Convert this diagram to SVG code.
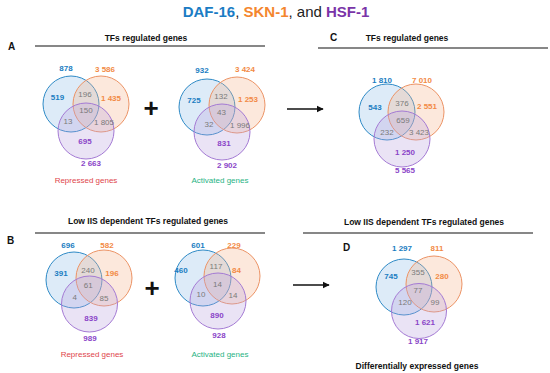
<svg xmlns="http://www.w3.org/2000/svg" width="550" height="373" viewBox="0 0 550 373">
<defs>
<style>
text{font-family:"Liberation Sans",Arial,sans-serif;text-anchor:middle}
.h{font-size:15px;font-weight:bold}
.t{font-size:8.5px;font-weight:bold;fill:#111}
.L{font-size:10px;font-weight:bold;fill:#111;text-anchor:start}
.n{font-size:8px}
.b{fill:#1a7dc2;font-weight:bold}
.o{fill:#f28a45;font-weight:bold}
.p{fill:#8a45c8;font-weight:bold}
.g{fill:#7a7a7a}
.rep{font-size:8px;fill:#e0464a}
.act{font-size:8px;fill:#1fb383}
.plus{font-size:26px;font-weight:bold;fill:#111}
.cb{fill:#9ec7ea;fill-opacity:0.35;stroke:#2e8ac6;stroke-width:1}
.co{fill:#f6b48a;fill-opacity:0.3;stroke:#ec9365;stroke-width:1}
.cp{fill:#bba2dd;fill-opacity:0.3;stroke:#a47ad4;stroke-width:1}
.rule{stroke:#111;stroke-width:1.2}
.arr{stroke:#111;stroke-width:1.6;fill:none}
</style>
<marker id="ah" viewBox="0 0 10 10" refX="9" refY="5" markerWidth="4.5" markerHeight="4.5" orient="auto" markerUnits="strokeWidth">
<path d="M0,0 L10,5 L0,10 Z" fill="#111"/>
</marker>
</defs>

<g id="title">
<text class="h" x="276" y="17"><tspan fill="#1b7cc4">DAF-16</tspan><tspan fill="#222" font-weight="normal">, </tspan><tspan fill="#f4862e">SKN-1</tspan><tspan fill="#222" font-weight="normal">, and </tspan><tspan fill="#7a34a8">HSF-1</tspan></text>
</g>

<g id="panelA-header">
<text class="L" x="8" y="50">A</text>
<text class="t" x="146" y="41">TFs regulated genes</text>
<line class="rule" x1="35" y1="46" x2="265" y2="46"/>
</g>

<g id="venn-A-repressed">
<circle class="cb" cx="71" cy="104" r="28"/>
<circle class="co" cx="101" cy="104" r="28"/>
<circle class="cp" cx="86" cy="131" r="28"/>
<text class="n b" x="66" y="71">878</text>
<text class="n o" x="105" y="72">3 586</text>
<text class="n b" x="57.5" y="100">519</text>
<text class="n g" x="85" y="97">196</text>
<text class="n o" x="111" y="101">1 435</text>
<text class="n g" x="86" y="113">150</text>
<text class="n g" x="68" y="124">13</text>
<text class="n g" x="104" y="125">1 805</text>
<text class="n p" x="85" y="144">695</text>
<text class="n p" x="91" y="166">2 663</text>
<text class="rep" x="86" y="183">Repressed genes</text>
</g>

<g id="plusA"><text class="plus" x="151" y="116.5">+</text></g>

<g id="venn-A-activated">
<circle class="cb" cx="207" cy="107" r="28"/>
<circle class="co" cx="237" cy="105" r="28"/>
<circle class="cp" cx="222" cy="132" r="28"/>
<text class="n b" x="202" y="73">932</text>
<text class="n o" x="245" y="72">3 424</text>
<text class="n b" x="194" y="103">725</text>
<text class="n g" x="221" y="98.5">132</text>
<text class="n o" x="248" y="102">1 253</text>
<text class="n g" x="221.5" y="115">43</text>
<text class="n g" x="209" y="127">32</text>
<text class="n g" x="240" y="127.5">1 996</text>
<text class="n p" x="224" y="146">831</text>
<text class="n p" x="227" y="168">2 902</text>
<text class="act" x="220" y="183">Activated genes</text>
</g>

<g id="panelC-header">
<text class="L" x="330" y="41">C</text>
<text class="t" x="407" y="41">TFs regulated genes</text>
<line class="rule" x1="318" y1="48" x2="548" y2="48"/>
</g>

<g id="venn-C">
<circle class="cb" cx="387" cy="112" r="28"/>
<circle class="co" cx="416" cy="112" r="28"/>
<circle class="cp" cx="402" cy="139" r="28"/>
<text class="n b" x="382" y="83">1 810</text>
<text class="n o" x="422" y="83">7 010</text>
<text class="n b" x="375" y="110">543</text>
<text class="n g" x="402" y="106">376</text>
<text class="n o" x="427" y="109">2 551</text>
<text class="n g" x="403" y="123">659</text>
<text class="n g" x="387" y="135">232</text>
<text class="n g" x="419" y="135">3 423</text>
<text class="n p" x="405" y="155">1 250</text>
<text class="n p" x="405" y="173">5 565</text>
</g>

<g id="panelB-header">
<text class="L" x="7" y="244">B</text>
<text class="t" x="148" y="224">Low IIS dependent TFs regulated genes</text>
<line class="rule" x1="35" y1="233" x2="265" y2="233"/>
</g>

<g id="venn-B-repressed">
<circle class="cb" cx="74" cy="280" r="28"/>
<circle class="co" cx="104" cy="278" r="28"/>
<circle class="cp" cx="89.5" cy="304" r="28"/>
<text class="n b" x="68" y="248">696</text>
<text class="n o" x="107" y="248">582</text>
<text class="n b" x="61" y="276">391</text>
<text class="n g" x="88" y="272.5">240</text>
<text class="n o" x="112" y="276">196</text>
<text class="n g" x="88.3" y="288">61</text>
<text class="n g" x="74.7" y="300">4</text>
<text class="n g" x="104" y="301">85</text>
<text class="n p" x="91" y="321">839</text>
<text class="n p" x="90" y="341">989</text>
<text class="rep" x="92" y="357">Repressed genes</text>
</g>

<g id="plusB"><text class="plus" x="152" y="296.5">+</text></g>

<g id="venn-B-activated">
<circle class="cb" cx="203" cy="278" r="28"/>
<circle class="co" cx="232" cy="276" r="28"/>
<circle class="cp" cx="218" cy="301" r="28"/>
<text class="n b" x="198" y="248">601</text>
<text class="n o" x="234" y="248">229</text>
<text class="n b" x="181" y="273">460</text>
<text class="n g" x="216" y="269">117</text>
<text class="n o" x="236.5" y="273">84</text>
<text class="n g" x="217.5" y="287">14</text>
<text class="n g" x="201" y="297">10</text>
<text class="n g" x="233" y="298">14</text>
<text class="n p" x="217" y="318">890</text>
<text class="n p" x="219" y="338">928</text>
<text class="act" x="220" y="357">Activated genes</text>
</g>

<g id="panelD-header">
<text class="t" x="424" y="224.5">Low IIS dependent TFs regulated genes</text>
<line class="rule" x1="303" y1="233" x2="533" y2="233"/>
<text class="L" x="343" y="251">D</text>
</g>

<g id="venn-D">
<circle class="cb" cx="404" cy="287" r="28"/>
<circle class="co" cx="434" cy="284" r="28"/>
<circle class="cp" cx="419" cy="311" r="27.5"/>
<text class="n b" x="402" y="251">1 297</text>
<text class="n o" x="437" y="251">811</text>
<text class="n b" x="391" y="279">745</text>
<text class="n g" x="418" y="275">355</text>
<text class="n o" x="442" y="279">280</text>
<text class="n g" x="418" y="293">77</text>
<text class="n g" x="405" y="305">120</text>
<text class="n g" x="435" y="305">99</text>
<text class="n p" x="425" y="325">1 621</text>
<text class="n p" x="418" y="344">1 917</text>
<text class="t" x="417" y="369">Differentially expressed  genes</text>
</g>

<g id="connectors">
<line class="arr" x1="287" y1="109" x2="323" y2="109" marker-end="url(#ah)"/>
<line class="arr" x1="293" y1="285" x2="329" y2="285" marker-end="url(#ah)"/>
</g>
</svg>
